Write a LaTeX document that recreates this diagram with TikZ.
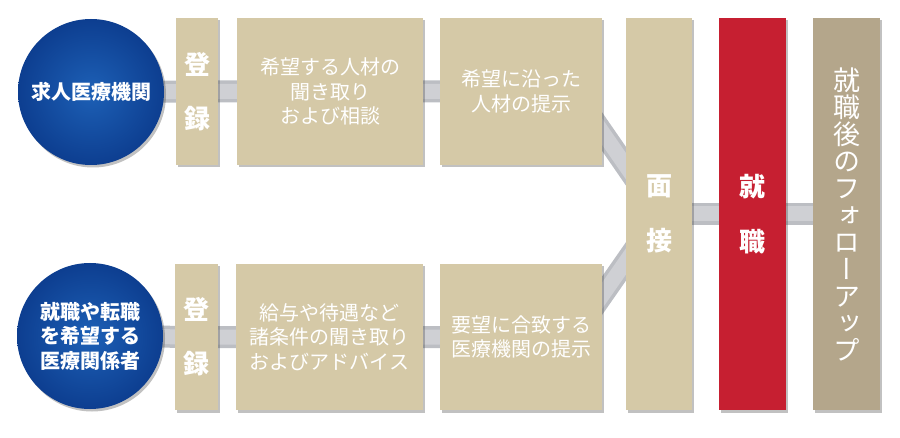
\documentclass[tikz,border=0pt]{standalone}
\usepackage{fontspec}
\newfontfamily\jp{Noto Sans CJK JP}
\newfontfamily\jpv{Noto Sans CJK JP}[RawFeature=+vert]
\usetikzlibrary{shadows,backgrounds}
\definecolor{beige}{HTML}{D5C9A7}
\definecolor{taupe}{HTML}{B4A68B}
\definecolor{jobred}{HTML}{C61F31}
\definecolor{bandout}{HTML}{BCBEC3}
\definecolor{bandin}{HTML}{CFD0D4}
\definecolor{ballin}{HTML}{1D60B6}
\definecolor{ballout}{HTML}{0D3E90}
\tikzset{
  shd/.style={drop shadow={shadow xshift=2pt,shadow yshift=-2.5pt,opacity=.35,fill=black!70}},
  box/.style={shd,fill=beige,draw=none,inner sep=0pt,text=white,align=center,
    font=\jp\fontsize{20}{24.5}\selectfont},
  regbox/.style={box,font=\jp\bfseries\fontsize{26}{54}\selectfont},
  tallbox/.style={box,minimum height=392pt,font=\jp\bfseries\fontsize{26}{55}\selectfont},
  ball/.style={circle,shd,inner sep=0pt,minimum size=146pt,inner color=ballin,outer color=ballout,
    text=white,align=center,font=\jp\bfseries\fontsize{20}{24.5}\selectfont},
  bandA/.style={line width=22pt,draw=bandout},
  bandB/.style={line width=15pt,draw=bandin}
}
\begin{document}
\begin{tikzpicture}[x=1pt,y=1pt]
\useasboundingbox (0,0) rectangle (900,437);
% top row
\node[ball] (c1) at (91,345) {求人医療機関};
\node[regbox,minimum width=42pt,minimum height=147pt] (r1) at (197,345.5) {登\\録};
\node[box,minimum width=186pt,minimum height=147pt] (b12) at (330,345.5) {希望する人材の\\聞き取り\\および相談};
\node[box,minimum width=162pt,minimum height=147pt] (b13) at (521,345.5) {希望に沿った\\人材の提示};
% bottom row
\node[ball] (c2) at (90,101) {就職や転職\\を希望する\\医療関係者};
\node[regbox,minimum width=43pt,minimum height=146pt] (r2) at (196.5,100) {登\\録};
\node[box,minimum width=187pt,minimum height=146pt] (b22) at (329.5,100) {給与や待遇など\\諸条件の聞き取り\\およびアドバイス};
\node[box,minimum width=162pt,minimum height=146pt] (b23) at (521,100) {要望に合致する\\医療機関の提示};
% tall boxes
\node[tallbox,minimum width=66pt] (iv) at (659,223) {面\\接};
\node[tallbox,minimum width=67pt,fill=jobred] (job) at (752.5,223) {就\\職};
\node[tallbox,minimum width=67pt,fill=taupe,font=\jpv\fontsize{27}{27}\selectfont] (fu) at (846.5,223)
  {就\\職\\後\\の\\フ\\ォ\\ロ\\ー\\ア\\ッ\\プ};
\coordinate (d1) at (574,346);
\coordinate (d2) at (574,101);
\begin{scope}[on background layer]
  \foreach \s in {bandA,bandB}{
    \draw[\s] (c1.center) -- (r1.center) -- (b12.center) -- (b13.center);
    \draw[\s] (c2.center) -- (r2.center) -- (b22.center) -- (b23.center);
    \draw[\s] (d1) -- (iv.center);
    \draw[\s] (d2) -- (iv.center);
    \draw[\s] (iv.center) -- (job.center) -- (fu.center);
  }
\end{scope}
\end{tikzpicture}
\end{document}
